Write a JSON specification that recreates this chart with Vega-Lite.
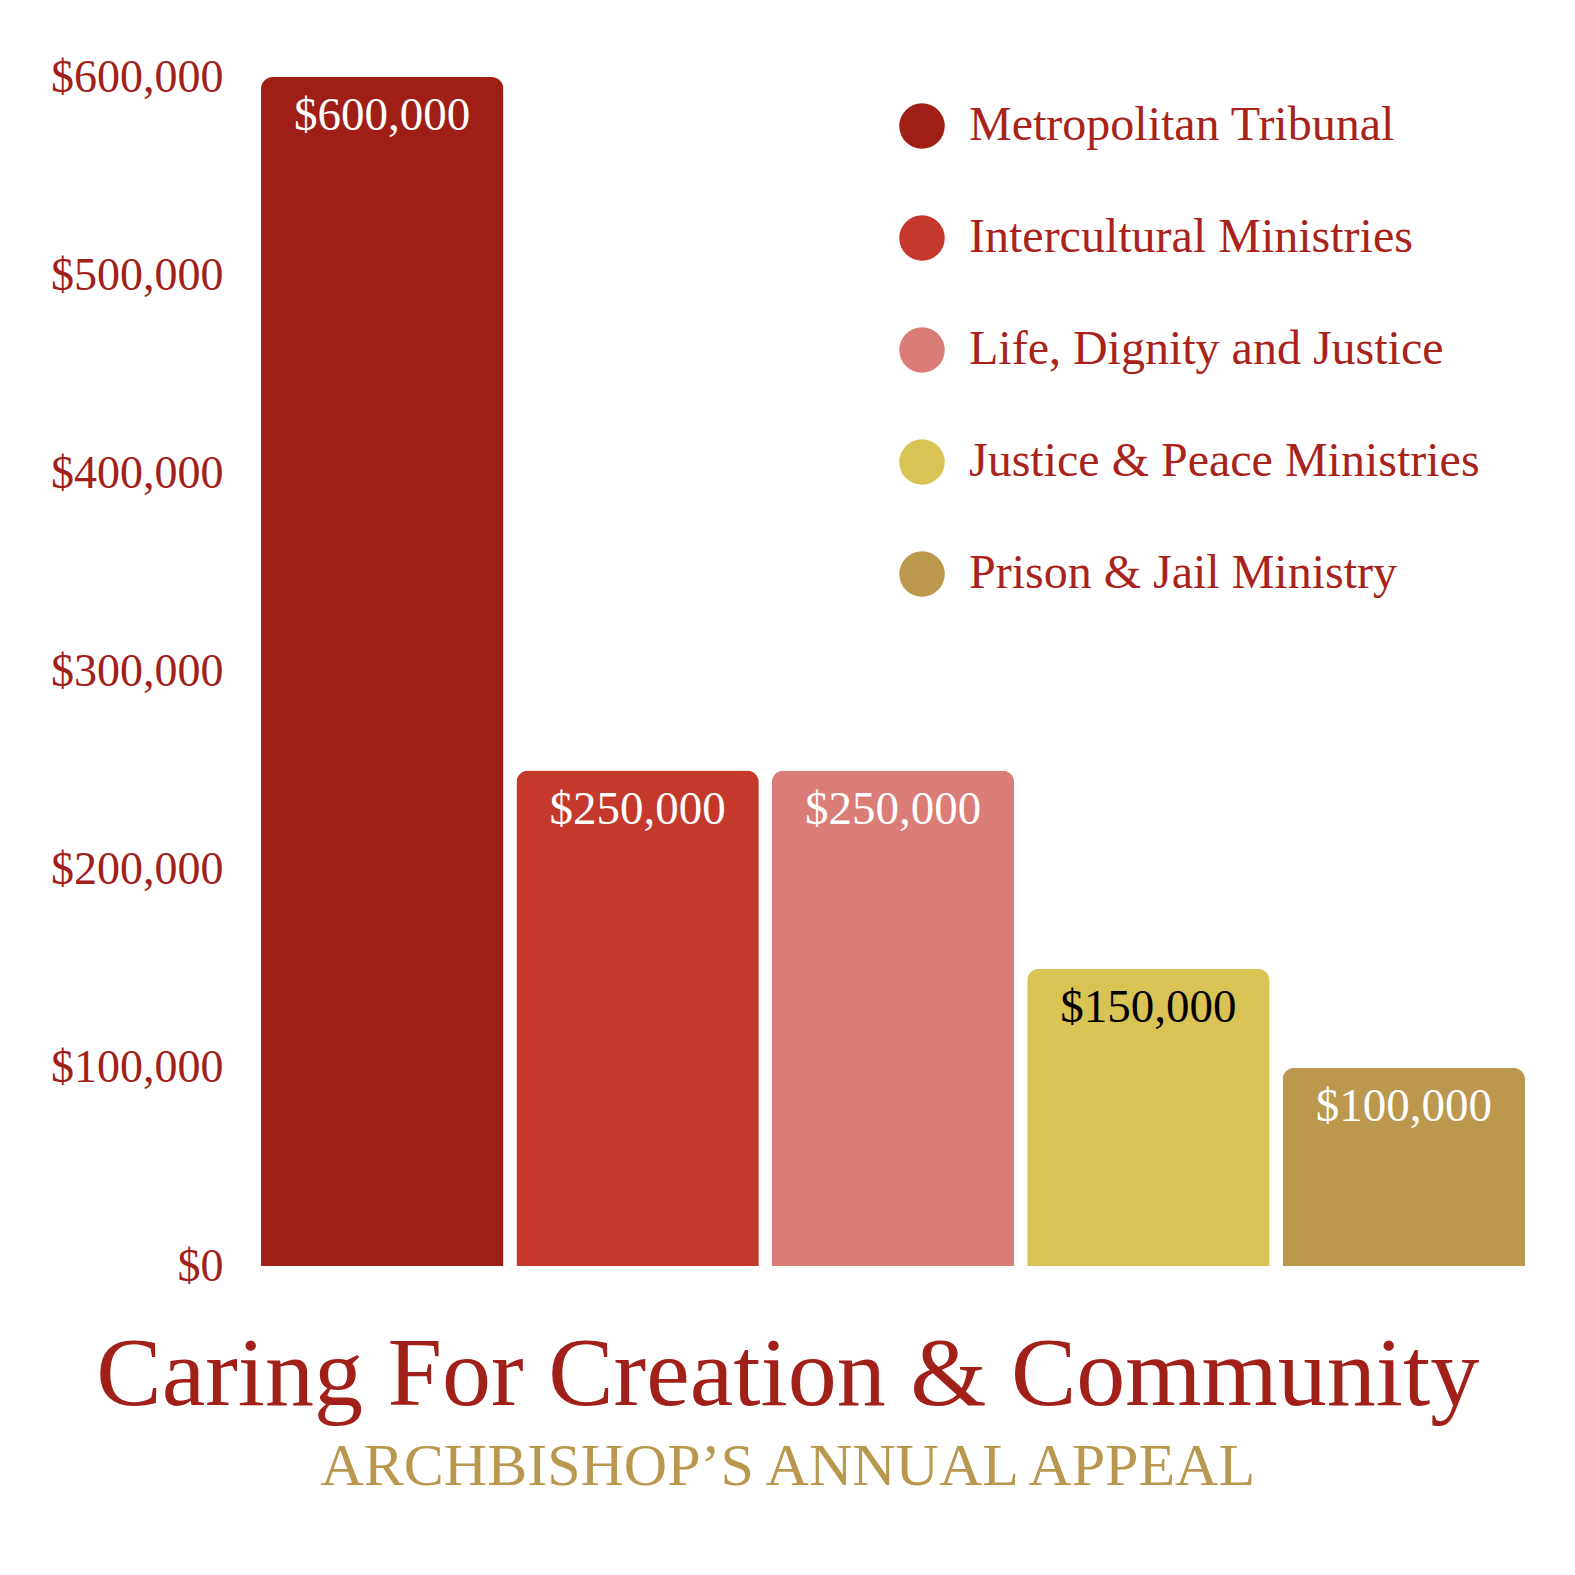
{
  "$schema": "https://vega.github.io/schema/vega-lite/v6.json",
  "autosize": {"type": "fit", "contains": "padding"},
  "padding": {"left": 50, "top": 54, "right": 50, "bottom": 78},
  "width": 1575,
  "height": 1575,
  "background": "#ffffff",
  "title": {
    "text": "Caring For Creation & Community",
    "subtitle": "ARCHBISHOP\u2019S ANNUAL APPEAL",
    "orient": "bottom",
    "anchor": "middle",
    "frame": "bounds",
    "offset": 39,
    "font": "Liberation Serif",
    "fontSize": 98,
    "fontWeight": "normal",
    "color": "#A2201A",
    "subtitleFont": "Liberation Serif",
    "subtitleFontSize": 60,
    "subtitleColor": "#B9974F",
    "subtitlePadding": 12
  },
  "data": {
    "values": [
      {"program": "Metropolitan Tribunal", "amount": 600000},
      {"program": "Intercultural Ministries", "amount": 250000},
      {"program": "Life, Dignity and Justice", "amount": 250000},
      {"program": "Justice & Peace Ministries", "amount": 150000},
      {"program": "Prison & Jail Ministry", "amount": 100000}
    ]
  },
  "encoding": {
    "x": {
      "field": "program",
      "type": "nominal",
      "sort": null,
      "scale": {"paddingInner": 0.051, "paddingOuter": 0},
      "axis": null
    },
    "y": {
      "field": "amount",
      "type": "quantitative",
      "scale": {"domain": [0, 600000], "nice": false},
      "axis": {
        "values": [0, 100000, 200000, 300000, 400000, 500000, 600000],
        "format": "$,.0f",
        "title": null,
        "domain": false,
        "ticks": false,
        "grid": false,
        "labelFont": "Liberation Serif",
        "labelFontSize": 46,
        "labelColor": "#A2201A",
        "labelPadding": 38,
        "labelBaseline": "middle"
      }
    }
  },
  "layer": [
    {
      "mark": {"type": "bar", "cornerRadiusTopLeft": 12, "cornerRadiusTopRight": 12},
      "encoding": {
        "color": {
          "field": "program",
          "type": "nominal",
          "sort": null,
          "scale": {
            "domain": ["Metropolitan Tribunal", "Intercultural Ministries", "Life, Dignity and Justice", "Justice & Peace Ministries", "Prison & Jail Ministry"],
            "range": ["#9F1F16", "#C4392B", "#D97D76", "#D9C354", "#BC974E"]
          },
          "legend": {
            "orient": "none",
            "legendX": 637,
            "legendY": 25,
            "title": null,
            "symbolType": "circle",
            "symbolSize": 2070,
            "symbolStrokeWidth": 0,
            "labelFont": "Liberation Serif",
            "labelFontSize": 48,
            "labelColor": "#A8231B",
            "labelOffset": 23,
            "labelLimit": 800,
            "rowPadding": 64,
            "padding": 0
          }
        }
      }
    },
    {
      "mark": {
        "type": "text",
        "font": "Liberation Serif",
        "fontSize": 47,
        "baseline": "middle",
        "dy": 39
      },
      "encoding": {
        "text": {"field": "amount", "type": "quantitative", "format": "$,.0f"},
        "color": {
          "condition": {"test": "datum.program === 'Justice & Peace Ministries'", "value": "#000000"},
          "value": "#ffffff"
        }
      }
    }
  ],
  "config": {"view": {"stroke": null}}
}
